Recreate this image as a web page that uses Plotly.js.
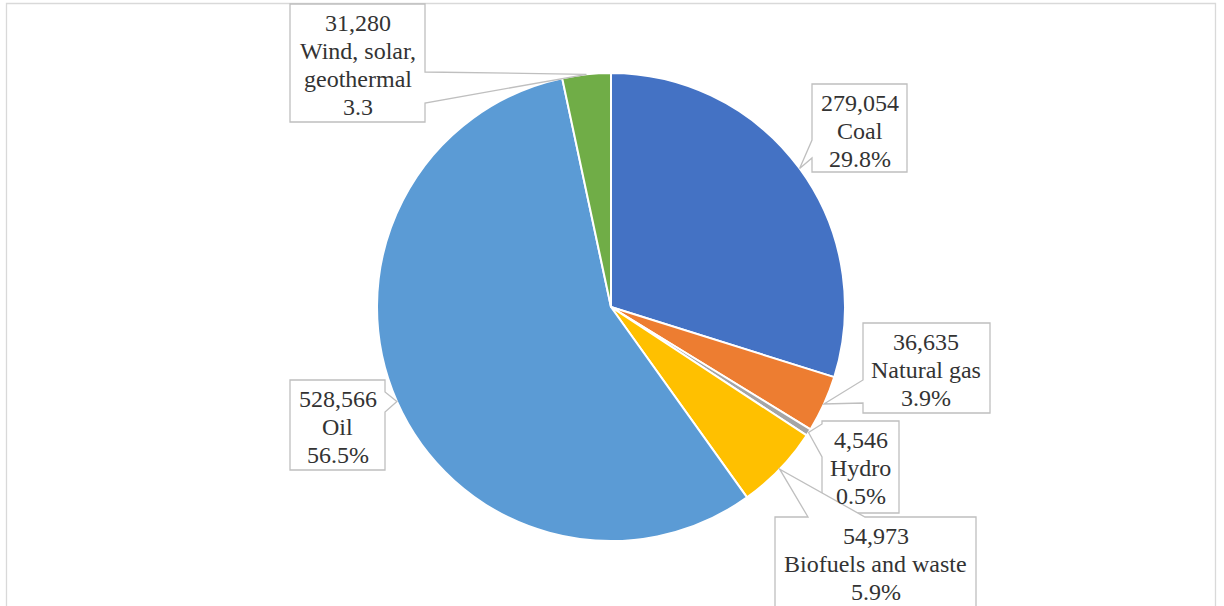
<!DOCTYPE html>
<html><head><meta charset="utf-8">
<script src="https://cdn.plot.ly/plotly-3.0.1.min.js"></script>
<style>html,body{margin:0;padding:0;background:#fff}</style>
</head><body><div id="chart" style="width:1224px;height:606px"></div>
<script>
// ---- data ----
const categories = ["Coal", "Natural gas", "Hydro", "Biofuels and waste", "Oil", "Wind, solar, geothermal"];
const values = [279054, 36635, 4546, 54973, 528566, 31280];
const valueLabels = ["279,054", "36,635", "4,546", "54,973", "528,566", "31,280"];
const nameLabels = [["Coal"], ["Natural gas"], ["Hydro"], ["Biofuels and waste"], ["Oil"], ["Wind, solar,", "geothermal"]];
const percentLabels = ["29.8%", "3.9%", "0.5%", "5.9%", "56.5%", "3.3"];
const colors = ["#4472C4", "#ED7D31", "#A5A5A5", "#FFC000", "#5B9BD5", "#70AD47"];

// ---- layout geometry ----
const W = 1224, H = 606, M = {l: 0, r: 2, t: 73, b: 65};
const PW = W - M.l - M.r, PH = H - M.t - M.b;
const cx = M.l + PW / 2, cy = M.t + PH / 2, R = Math.min(PW, PH) / 2;
const px = x => (x - M.l) / PW;
const py = y => 1 - (y - M.t) / PH;

// callout box placement (label layout, in pixels)
const boxes = [
  {x0: 812, y0: 84, x1: 907, y1: 172, edge: 'left', b: [140, 158]},
  {x0: 863, y0: 323, x1: 990, y1: 413, edge: 'left', b: [380, 403]},
  {x0: 822, y0: 421, x1: 899, y1: 513, edge: 'left', b: [424, 457]},
  {x0: 775, y0: 517, x1: 976, y1: 625, edge: 'top', b: [808, 865]},
  {x0: 290, y0: 380, x1: 385, y1: 470, edge: 'right', b: [392, 412]},
  {x0: 290, y0: 4, x1: 425, y1: 122, edge: 'right', b: [72, 103]}
];

const total = values.reduce((a, b) => a + b, 0);
let cum = 0;
const tips = values.map(v => {
  const mid = (cum + v / 2) / total; cum += v;
  const a = mid * 2 * Math.PI;
  return [cx + R * Math.sin(a), cy - R * Math.cos(a)];
});

const shapes = [];
// outer chart frame
shapes.push({type: 'rect', xref: 'paper', yref: 'paper', x0: px(6.5), x1: px(1215.5), y0: py(3.5), y1: py(640),
  line: {color: '#D9D9D9', width: 1.3}, fillcolor: 'rgba(0,0,0,0)', layer: 'below'});

const annotations = [];

boxes.forEach((bx, i) => {
  const t = tips[i];
  const pts = [];
  pts.push([bx.x0, bx.y0]);
  if (bx.edge === 'top') { pts.push([bx.b[0], bx.y0], t, [bx.b[1], bx.y0]); }
  pts.push([bx.x1, bx.y0]);
  if (bx.edge === 'right') { pts.push([bx.x1, bx.b[0]], t, [bx.x1, bx.b[1]]); }
  pts.push([bx.x1, bx.y1]);
  pts.push([bx.x0, bx.y1]);
  if (bx.edge === 'left') { pts.push([bx.x0, bx.b[1]], t, [bx.x0, bx.b[0]]); }
  const path = 'M ' + pts.map(p => px(p[0]).toFixed(5) + ',' + py(p[1]).toFixed(5)).join(' L ') + ' Z';
  shapes.push({type: 'path', xref: 'paper', yref: 'paper', path: path,
    line: {color: '#BFBFBF', width: 1.3}, fillcolor: '#FFFFFF', layer: 'above'});

  const lines = [valueLabels[i]].concat(nameLabels[i]).concat([percentLabels[i]]);
  const xc = (bx.x0 + bx.x1) / 2;
  lines.forEach((ln, k) => {
    annotations.push({xref: 'paper', yref: 'paper', x: px(xc), y: py(bx.y0 + 19 + 28 * k),
      xanchor: 'center', yanchor: 'middle', text: ln, showarrow: false,
      font: {family: 'Liberation Serif', size: 24, color: '#333333'}});
  });
});

const trace = {
  type: 'pie', labels: categories, values: values, sort: false, direction: 'clockwise', rotation: 0,
  marker: {colors: colors, line: {color: '#FFFFFF', width: 2}},
  textinfo: 'none', hoverinfo: 'label+value+percent', showlegend: false
};

Plotly.newPlot('chart', [trace], {
  width: W, height: H, margin: M, paper_bgcolor: '#FFFFFF', plot_bgcolor: '#FFFFFF',
  font: {family: 'Liberation Serif', size: 24, color: '#333333'},
  showlegend: false, shapes: shapes, annotations: annotations
}, {displayModeBar: false, staticPlot: true});
</script></body></html>
